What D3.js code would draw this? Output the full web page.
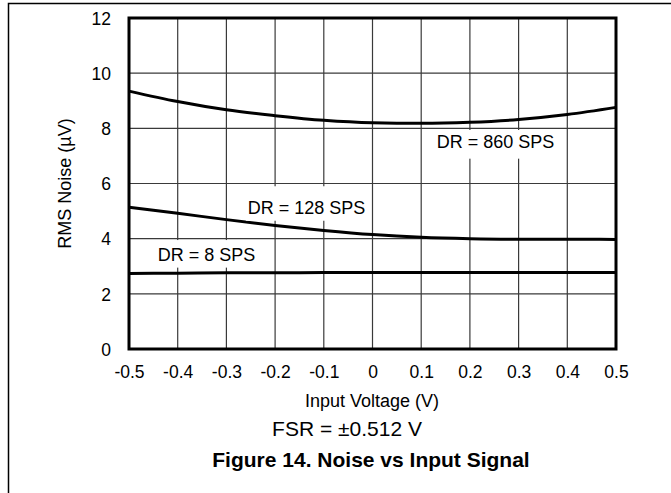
<!DOCTYPE html>
<html>
<head>
<meta charset="utf-8">
<script src="https://cdn.jsdelivr.net/npm/d3@7"></script>
<style>
  html, body { margin: 0; padding: 0; background: #fff; }
  svg { display: block; }
  text { font-family: "Liberation Sans", Arial, Helvetica, sans-serif; fill: #000; }
</style>
</head>
<body>
<svg id="chart" width="671" height="493"></svg>
<script>
// ---- data ----
const inputVoltage = [-0.5, -0.4, -0.3, -0.2, -0.1, 0, 0.1, 0.2, 0.3, 0.4, 0.5];
const dr860 = [9.35, 8.97, 8.67, 8.46, 8.29, 8.20, 8.18, 8.22, 8.32, 8.50, 8.76];
const dr128 = [5.14, 4.92, 4.69, 4.48, 4.30, 4.15, 4.05, 4.00, 3.98, 3.98, 3.97];
const dr8   = [2.74, 2.75, 2.76, 2.76, 2.77, 2.77, 2.77, 2.77, 2.77, 2.77, 2.77];
const xTicks = [-0.5, -0.4, -0.3, -0.2, -0.1, 0, 0.1, 0.2, 0.3, 0.4, 0.5];
const xTickLabels = ["-0.5", "-0.4", "-0.3", "-0.2", "-0.1", "0", "0.1", "0.2", "0.3", "0.4", "0.5"];
const yTicks = [0, 2, 4, 6, 8, 10, 12];
const seriesLabels = ["DR = 860 SPS", "DR = 128 SPS", "DR = 8 SPS"];
const xTitle = "Input Voltage (V)";
const yTitle = "RMS Noise (µV)";
const subTitle = "FSR = ±0.512 V";
const caption = "Figure 14. Noise vs Input Signal";

// ---- layout ----
const svg = d3.select("#chart");
const L = 129, R = 616, T = 18, B = 349;
const x = d3.scaleLinear().domain([-0.5, 0.5]).range([L, R]);
const y = d3.scaleLinear().domain([0, 12]).range([B, T]);

// outer frame (left and top edges visible)
svg.append("rect").attr("x", 8.5).attr("y", 3.5).attr("width", 700).attr("height", 520)
  .attr("fill", "none").attr("stroke", "#000").attr("stroke-width", 1.5);

// grid
const grid = svg.append("g").attr("stroke", "#3a3a3a").attr("stroke-width", 1.2);
grid.selectAll("line.v").data(xTicks).join("line")
  .attr("x1", d => x(d)).attr("x2", d => x(d)).attr("y1", T).attr("y2", B);
grid.selectAll("line.h").data(yTicks).join("line")
  .attr("y1", d => y(d)).attr("y2", d => y(d)).attr("x1", L).attr("x2", R);

// curves
const line = d3.line().x((d, i) => x(inputVoltage[i])).y(d => y(d)).curve(d3.curveMonotoneX);
[dr860, dr128, dr8].forEach(s => {
  svg.append("path").datum(s).attr("d", line)
    .attr("fill", "none").attr("stroke", "#000").attr("stroke-width", 3);
});

// series labels with white boxes
const labelPos = [
  { tx: x(0.132), ty: y(7.29), bx0: x(0.12), bx1: x(0.38), by0: y(7.94), by1: y(6.9) },
  { tx: x(-0.256), ty: y(4.9), bx0: x(-0.26), bx1: x(-0.01), by0: y(5.9), by1: y(4.65) },
  { tx: x(-0.441), ty: y(3.2), bx0: x(-0.45), bx1: x(-0.23), by0: y(3.95), by1: y(2.95) }
];
labelPos.forEach((p, i) => {
  svg.append("rect").attr("x", p.bx0).attr("y", p.by0)
    .attr("width", p.bx1 - p.bx0).attr("height", p.by1 - p.by0).attr("fill", "#fff");
  svg.append("text").attr("x", p.tx).attr("y", p.ty)
    .attr("font-size", 18).text(seriesLabels[i]);
});

// plot frame
svg.append("rect").attr("x", L).attr("y", T).attr("width", R - L).attr("height", B - T)
  .attr("fill", "none").attr("stroke", "#000").attr("stroke-width", 3);

// axes (tick labels via d3 axes, no domain/ticks lines)
const xAxis = d3.axisBottom(x).tickValues(xTicks).tickSize(0).tickPadding(0)
  .tickFormat((d, i) => xTickLabels[i]);
const gx = svg.append("g").attr("transform", `translate(0,${B})`).call(xAxis);
gx.select(".domain").remove();
gx.selectAll("text").attr("font-size", 17.5).attr("dy", null).attr("y", 29)
  .attr("font-family", '"Liberation Sans", Arial, sans-serif').attr("fill", "#000");

const yAxis = d3.axisLeft(y).tickValues(yTicks).tickSize(0).tickPadding(18)
  .tickFormat(d3.format("d"));
const gy = svg.append("g").attr("transform", `translate(${L},0)`).call(yAxis);
gy.select(".domain").remove();
gy.selectAll("text").attr("font-size", 17.5).attr("dy", "0.36em")
  .attr("font-family", '"Liberation Sans", Arial, sans-serif').attr("fill", "#000");

// titles
svg.append("text").attr("x", 372).attr("y", 407).attr("text-anchor", "middle")
  .attr("font-size", 18).text(xTitle);
svg.append("text").attr("transform", `translate(71,${(T + B) / 2}) rotate(-90)`)
  .attr("text-anchor", "middle").attr("font-size", 18).text(yTitle);
svg.append("text").attr("x", 347).attr("y", 436).attr("text-anchor", "middle")
  .attr("font-size", 21).text(subTitle);
svg.append("text").attr("x", 371).attr("y", 467).attr("text-anchor", "middle")
  .attr("font-size", 21).attr("font-weight", "bold").text(caption);
</script>
</body>
</html>
